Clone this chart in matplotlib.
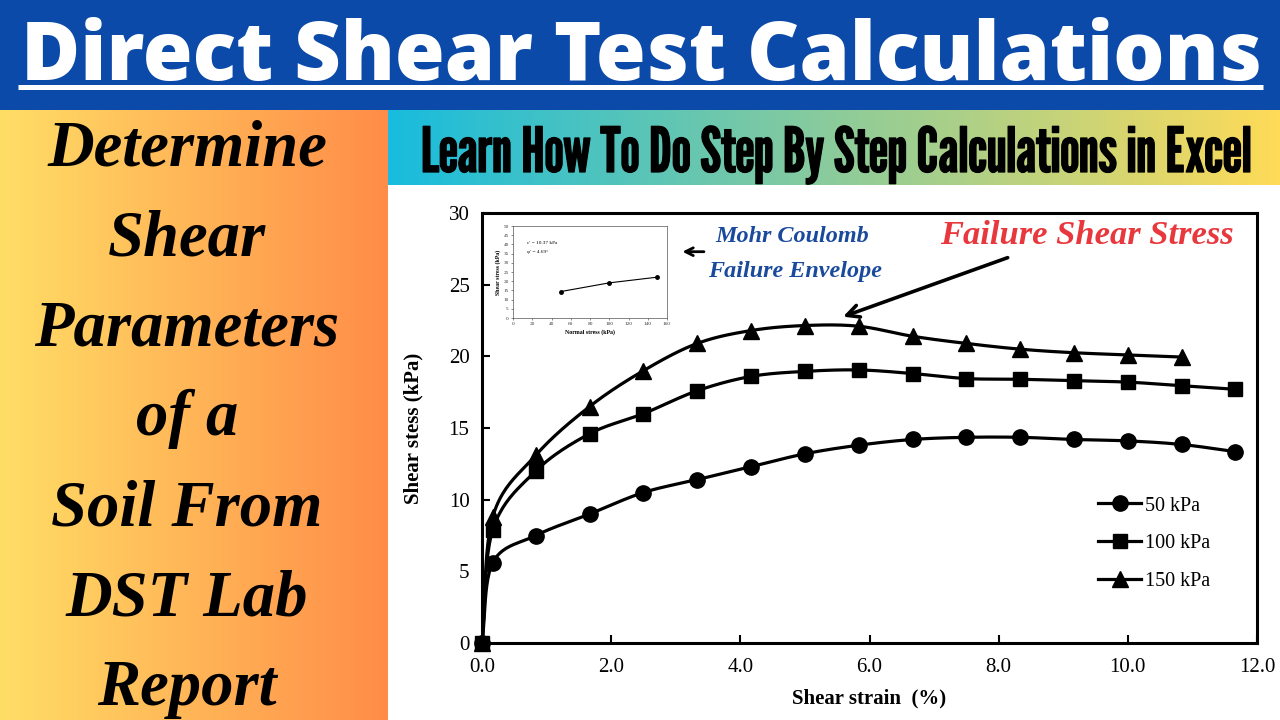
import numpy as np
import matplotlib
matplotlib.use('Agg')
import matplotlib.pyplot as plt
import matplotlib.patheffects as pe
from matplotlib.colors import LinearSegmentedColormap

# shear strain readings (%)
strain = [0.0, 0.167, 0.833, 1.667, 2.5, 3.333, 4.167, 5.0, 5.833, 6.667,
          7.5, 8.333, 9.167, 10.0, 10.833, 11.667]
# shear stress (kPa) for each normal stress
stress_50 = [0, 5.6, 7.5, 9.0, 10.5, 11.4, 12.3, 13.2, 13.8, 14.2,
             14.35, 14.35, 14.2, 14.1, 13.85, 13.35]
stress_100 = [0, 7.9, 12.0, 14.6, 16.0, 17.6, 18.6, 18.95, 19.05, 18.8,
              18.45, 18.4, 18.3, 18.2, 17.95, 17.7]
stress_150 = [0, 8.8, 13.1, 16.5, 19.0, 20.9, 21.8, 22.15, 22.1, 21.4,
              20.9, 20.5, 20.25, 20.1, 19.95]
series_labels = ['50 kPa', '100 kPa', '150 kPa']
series_markers = ['o', 's', '^']
marker_sizes = [11, 10, 12]

# failure envelope (inset)
normal_stress = [50, 100, 150]
peak_stress = [14.4, 19.1, 22.2]

left_lines = ['Determine', 'Shear', 'Parameters', 'of a', 'Soil From', 'DST Lab', 'Report']

SERIF = ['Liberation Serif', 'DejaVu Serif']

fig = plt.figure(figsize=(12.8, 7.2), dpi=100)
fig.patch.set_facecolor('white')


def fit_width(txt, width):
    r = fig.canvas.get_renderer()
    w = txt.get_window_extent(r).width
    txt.set_fontsize(txt.get_fontsize() * width / w)


# background in pixel coordinates
bg = fig.add_axes([0, 0, 1, 1])
bg.set_xlim(0, 1280)
bg.set_ylim(720, 0)
bg.axis('off')

grad = np.linspace(0, 1, 256).reshape(1, -1)
bg.add_patch(plt.Rectangle((0, 0), 1280, 110, color='#0b4aa9', lw=0))
orange = LinearSegmentedColormap.from_list('o', ['#ffde66', '#ff8c48'])
bg.imshow(grad, cmap=orange, extent=(0, 388, 720, 110), aspect='auto')
banner = LinearSegmentedColormap.from_list('b', ['#18bcde', '#ffdb58'])
bg.imshow(grad, cmap=banner, extent=(388, 1280, 185, 110), aspect='auto')

title = bg.text(641, 80, 'Direct Shear Test Calculations', color='white',
                family=['Open Sans', 'DejaVu Sans'], weight=800, fontsize=50,
                ha='center', va='baseline')
fit_width(title, 1242)
bg.plot([18, 1263], [87, 87], color='white', lw=3.6, solid_capstyle='butt')

sub = bg.text(836, 172, 'Learn How To Do Step By Step Calculations in Excel',
              color='black', family=['League Gothic', 'DejaVu Sans'], fontsize=40,
              ha='center', va='baseline',
              path_effects=[pe.withStroke(linewidth=0.9, foreground='black')])
fit_width(sub, 830)

left_txt = []
for i, s in enumerate(left_lines):
    t = bg.text(187, 165 + 90 * i, s, family=SERIF, weight='bold', style='italic',
                fontsize=40, ha='center', va='baseline', color='black')
    left_txt.append(t)
fit_width(left_txt[2], 305)
for t in left_txt:
    t.set_fontsize(left_txt[2].get_fontsize())

# main chart
ax = fig.add_axes([482 / 1280, 77 / 720, 775 / 1280, 430 / 720])
ax.set_xlim(0, 12)
ax.set_ylim(0, 30)


def smooth(xs, ys, n=24):
    pts = ax.transData.transform(np.column_stack([xs, ys]))
    p = np.vstack([2 * pts[0] - pts[1], pts, 2 * pts[-1] - pts[-2]])
    t = np.linspace(0, 1, n, endpoint=False)[:, None]
    segs = []
    for i in range(1, len(p) - 2):
        p0, p1, p2, p3 = p[i - 1], p[i], p[i + 1], p[i + 2]
        segs.append(0.5 * (2 * p1 + (p2 - p0) * t
                           + (2 * p0 - 5 * p1 + 4 * p2 - p3) * t ** 2
                           + (3 * p1 - p0 - 3 * p2 + p3) * t ** 3))
    segs.append(pts[-1:])
    return ax.transData.inverted().transform(np.vstack(segs)).T


for ys, lab, mk, ms in zip([stress_50, stress_100, stress_150], series_labels,
                           series_markers, marker_sizes):
    xs = strain[:len(ys)]
    cx, cy = smooth(xs, ys)
    ax.plot(cx, cy, color='black', lw=2.3, clip_on=False)
    ax.plot(xs, ys, linestyle='none', marker=mk, ms=ms, color='black', clip_on=False, zorder=3)
    ax.plot([], [], color='black', lw=2.3, marker=mk, ms=ms, label=lab)

ax.set_xticks(np.arange(0, 12.1, 2))
ax.set_xticklabels(['%.1f' % v for v in np.arange(0, 12.1, 2)])
ax.set_yticks(np.arange(0, 31, 5))
ax.tick_params(direction='in', length=6, width=1.5, labelsize=15, pad=9)
ax.tick_params(axis='x', pad=11)
for lbl in ax.get_xticklabels() + ax.get_yticklabels():
    lbl.set_family(SERIF)
for sp in ax.spines.values():
    sp.set_linewidth(2.2)
ax.set_xlabel('Shear strain  (%)', family=SERIF, weight='bold', fontsize=15, labelpad=8)
ax.set_ylabel('Shear stess (kPa)', family=SERIF, weight='bold', fontsize=15, labelpad=18)

leg = ax.legend(loc='upper left', bbox_to_anchor=(0.772, 0.383), frameon=False,
                prop={'family': SERIF, 'size': 14.5}, handlelength=2.1,
                handletextpad=0.2, labelspacing=0.92)

mc1 = ax.text(4.8, 28.35, 'Mohr Coulomb', color='#1a4a9c', family=SERIF, weight='bold',
              style='italic', fontsize=16, ha='center', va='center')
mc2 = ax.text(4.85, 25.95, 'Failure Envelope', color='#1a4a9c', family=SERIF, weight='bold',
              style='italic', fontsize=16, ha='center', va='center')
fit_width(mc2, 174)
mc1.set_fontsize(mc2.get_fontsize())
ax.annotate('', xy=(3.06, 27.3), xytext=(3.48, 27.3),
            arrowprops=dict(arrowstyle='->', lw=2, color='black', mutation_scale=14))
fs = ax.text(9.37, 28.4, 'Failure Shear Stress', color='#e8383d', family=SERIF, weight='bold',
             style='italic', fontsize=21, ha='center', va='center')
fit_width(fs, 293)
ax.annotate('', xy=(5.55, 22.7), xytext=(8.18, 26.95),
            arrowprops=dict(arrowstyle='->', lw=2.6, color='black', mutation_scale=22))

# inset: failure envelope
ins = fig.add_axes([513 / 1280, 402 / 720, 154 / 1280, 92 / 720])
ins.plot(normal_stress, peak_stress, color='black', lw=0.8, marker='o', ms=2.5)
ins.set_xlim(0, 160)
ins.set_ylim(0, 50)
ins.set_xticks(range(0, 161, 20))
ins.set_yticks(range(0, 51, 5))
ins.tick_params(labelsize=3.8, length=1.5, width=0.4, pad=1.5, colors='#333333')
for lbl in ins.get_xticklabels() + ins.get_yticklabels():
    lbl.set_family(SERIF)
for sp in ins.spines.values():
    sp.set_linewidth(0.5)
    sp.set_color('#555555')
ins.set_xlabel('Normal stress (kPa)', family=SERIF, weight='bold', fontsize=4.2, labelpad=2)
ins.set_ylabel('Shear stress (kPa)', family=SERIF, weight='bold', fontsize=4.2, labelpad=2)
ins.text(15, 41, "c' = 10.37 kPa", family=SERIF, fontsize=3.8, va='center')
ins.text(15, 36, "\u03c6' = 4.69\u00b0", family=SERIF, fontsize=3.8, va='center')

fig.savefig('out.png', dpi=100)
